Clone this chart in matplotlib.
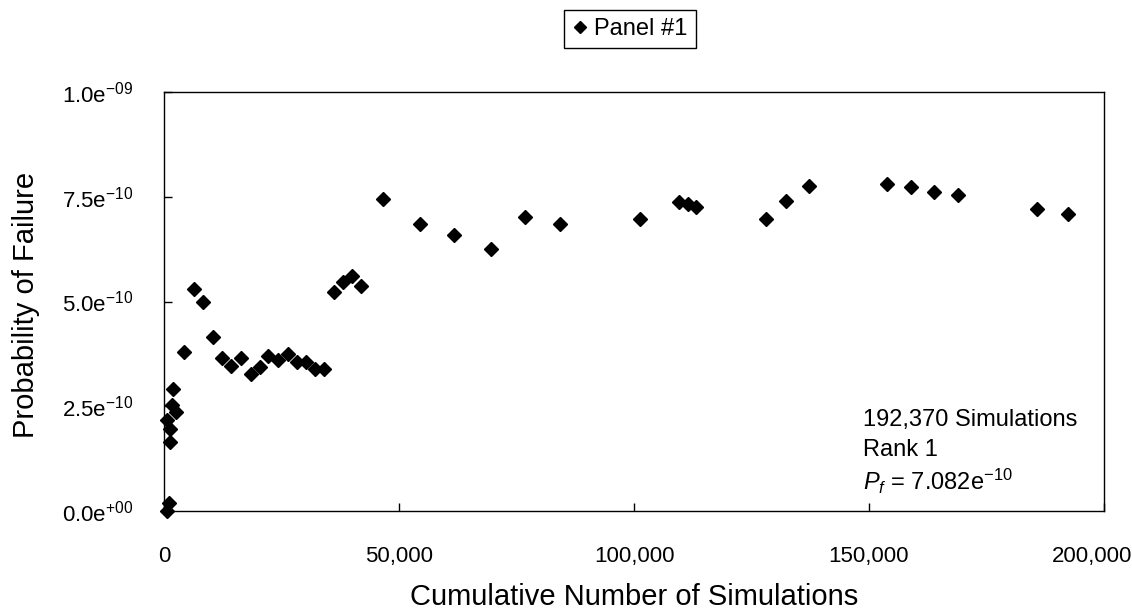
"""
Convergence of the failure probability estimate for Panel #1.
Scatter of running Pf against cumulative number of simulations.
"""

import matplotlib

matplotlib.use("Agg")
import matplotlib.pyplot as plt
from matplotlib.ticker import FixedLocator, FuncFormatter
from matplotlib.transforms import ScaledTranslation

plt.rcParams["font.family"] = ["Liberation Sans", "DejaVu Sans"]
plt.rcParams["mathtext.fontset"] = "custom"
plt.rcParams["mathtext.rm"] = "Liberation Sans"
plt.rcParams["mathtext.it"] = "Liberation Sans:italic"

# cumulative simulations and running probability of failure
SIMS = [
    600, 1100, 1300, 1300, 600, 2500, 1800, 2000, 4250, 6400,
    8350, 10350, 12300, 14250, 16400, 18450, 20400, 22200, 24200, 26300,
    28350, 30200, 32100, 34100, 36150, 38000, 39950, 41900, 46650, 54450,
    61750, 69500, 76800, 84250, 101250, 109650, 111550, 113200, 128000, 132300,
    137250, 153900, 158850, 163900, 168850, 185700, 192370,
]
PF = [
    0.00, 0.20, 1.65, 1.96, 2.17, 2.36, 2.53, 2.91, 3.80, 5.31,
    4.98, 4.16, 3.66, 3.47, 3.66, 3.26, 3.43, 3.71, 3.60, 3.74,
    3.56, 3.56, 3.39, 3.39, 5.23, 5.46, 5.61, 5.37, 7.44, 6.85,
    6.59, 6.25, 7.02, 6.85, 6.97, 7.38, 7.33, 7.25, 6.97, 7.40,
    7.76, 7.80, 7.73, 7.61, 7.53, 7.20, 7.082,
]  # x 1e-10

X_TICKS = [0, 50000, 100000, 150000, 200000]
Y_TICKS = [0.0, 2.5e-10, 5.0e-10, 7.5e-10, 1.0e-9]
Y_TICK_LABELS = [
    r"0.0e$^{+00}$", r"2.5e$^{-10}$", r"5.0e$^{-10}$", r"7.5e$^{-10}$", r"1.0e$^{-09}$",
]
NOTE_LINES = ["192,370 Simulations", "Rank 1", r"$P_f$ = 7.082e$^{-10}$"]

W, H = 1132, 610


def main() -> None:
    fig = plt.figure(figsize=(W / 100, H / 100), dpi=100)
    ax = fig.add_axes([164 / W, 1 - 511 / H, 940 / W, 419 / H])

    pf = [v * 1e-10 for v in PF]
    ax.plot(SIMS, pf, linestyle="none", marker="D", markersize=7.4,
            color="black", label="Panel #1", clip_on=False, zorder=3)

    ax.set_xlim(0, 200000)
    ax.set_ylim(0, 1.0e-9)

    ax.xaxis.set_major_locator(FixedLocator(X_TICKS))
    ax.xaxis.set_major_formatter(FuncFormatter(lambda v, _: f"{int(v):,}"))
    ax.yaxis.set_major_locator(FixedLocator(Y_TICKS))
    ax.set_yticklabels(Y_TICK_LABELS)

    ax.tick_params(axis="both", direction="in", length=6, width=1,
                   labelsize=16, color="black")
    ax.tick_params(axis="x", pad=25)
    ax.tick_params(axis="y", pad=22)

    # last x label would run off the right edge, nudge it left a bit
    last = ax.get_xticklabels()[-1]
    last.set_transform(last.get_transform()
                       + ScaledTranslation(-12 / 100, 0, fig.dpi_scale_trans))

    for sp in ax.spines.values():
        sp.set_linewidth(1.0)
        sp.set_color("black")

    fig.text(634 / W, 1 - 605 / H, "Cumulative Number of Simulations",
             fontsize=21, ha="center", va="baseline")
    fig.text(26 / W, 1 - 305 / H, "Probability of Failure",
             fontsize=21, ha="center", va="center", rotation=90)

    for text, yfrac in zip(NOTE_LINES, [0.217, 0.145, 0.070]):
        ax.text(0.744, yfrac, text, transform=ax.transAxes, fontsize=17,
                ha="left", va="center")

    leg = fig.legend(loc="center", bbox_to_anchor=(630 / W, 1 - 29 / H),
                     fontsize=17, frameon=True, fancybox=False, markerscale=0.85,
                     handlelength=0.6, handletextpad=0.3, borderpad=0.35,
                     edgecolor="black", framealpha=1)
    leg.get_frame().set_linewidth(1.0)

    fig.savefig("out.png", dpi=100, facecolor="white")
    plt.close(fig)


if __name__ == "__main__":
    main()
